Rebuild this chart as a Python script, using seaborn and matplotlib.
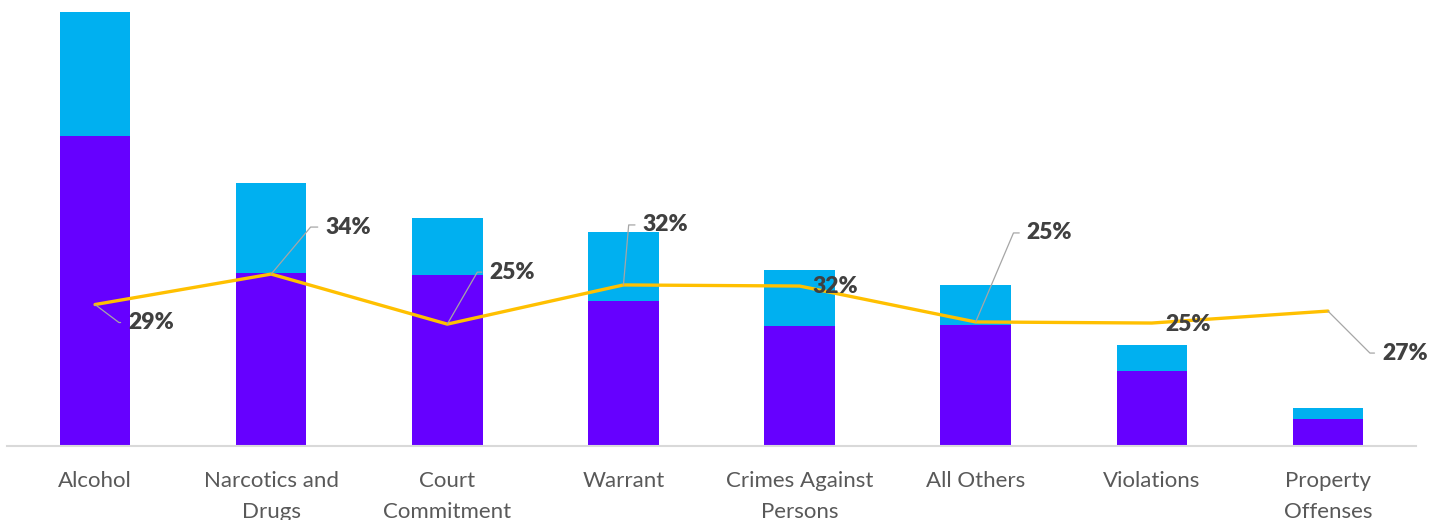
import textwrap
import seaborn as sns
import matplotlib.pyplot as plt
import numpy as np
import pandas as pd

# data (bar heights in arbitrary units)
categories = ["Alcohol", "Narcotics and Drugs", "Court Commitment", "Warrant",
              "Crimes Against Persons", "All Others", "Violations", "Property Offenses"]
bottom_part = [3100, 1730, 1710, 1450, 1200, 1210, 750, 270]
top_part = [1240, 900, 570, 690, 560, 400, 260, 110]
pct = [0.286, 0.342, 0.250, 0.322, 0.320, 0.254, 0.252, 0.274]

# label placement: offset (px) from the point, angle of the leader line (None = no leader)
label_offsets = [(33, -18), (54, 47), (42, 52), (19, 60), (13, 0), (51, 89), (14, -1), (54, -42)]
leader_angles = [-37, 50, 60, 85, None, 67, None, -45]

PURPLE = "#6600FF"
CYAN = "#00B0F0"
GOLD = "#FFC000"

df = pd.DataFrame({"category": categories, "bottom": bottom_part, "top": top_part, "pct": pct})
df["total"] = df["bottom"] + df["top"]
df["pos"] = np.arange(len(df))

sns.set_style("white")
plt.rcParams["font.family"] = ["Lato", "DejaVu Sans"]

fig = plt.figure(figsize=(14.43, 5.2), dpi=100)
ax = fig.add_axes([7 / 1443, 74 / 520, 1409 / 1443, 438 / 520])

sns.barplot(data=df, x="category", y="total", color=CYAN, saturation=1, width=0.4, linewidth=0, ax=ax)
sns.barplot(data=df, x="category", y="bottom", color=PURPLE, saturation=1, width=0.4, linewidth=0, ax=ax)
ax.set_xlim(-0.5, len(df) - 0.5)
ax.set_ylim(0, 4380)

ax2 = ax.twinx()
sns.lineplot(data=df, x="pos", y="pct", color=GOLD, linewidth=2.4, ax=ax2)
ax2.set_ylim(0.026, 0.831)

for i, row in df.iterrows():
    dx, dy = label_offsets[i]
    ang = leader_angles[i]
    props = None
    if ang is not None:
        props = dict(arrowstyle="-", color="#a6a6a6", lw=0.9, relpos=(0, 0.5),
                     shrinkA=3, shrinkB=0,
                     connectionstyle="angle,angleA=0,angleB=%d,rad=0" % ang)
    ax2.annotate(f"{row['pct']:.0%}", xy=(row["pos"], row["pct"]), xytext=(dx, dy),
                 textcoords="offset pixels", ha="left", va="center",
                 fontsize=16.5, fontweight="heavy", color="#404040", arrowprops=props)

for a in (ax, ax2):
    a.set_xlabel("")
    a.set_ylabel("")
    a.set_yticks([])
    for s in ["left", "right", "top"]:
        a.spines[s].set_visible(False)
ax2.spines["bottom"].set_visible(False)
ax.spines["bottom"].set_color("#d9d9d9")
ax.spines["bottom"].set_linewidth(1.5)

ax.set_xticks(df["pos"])
ax.set_xticklabels([textwrap.fill(c, 14) for c in categories], fontsize=16, color="#595959",
                   linespacing=1.7)
ax.tick_params(axis="x", length=0, pad=18)

fig.savefig("out.png", dpi=100)
